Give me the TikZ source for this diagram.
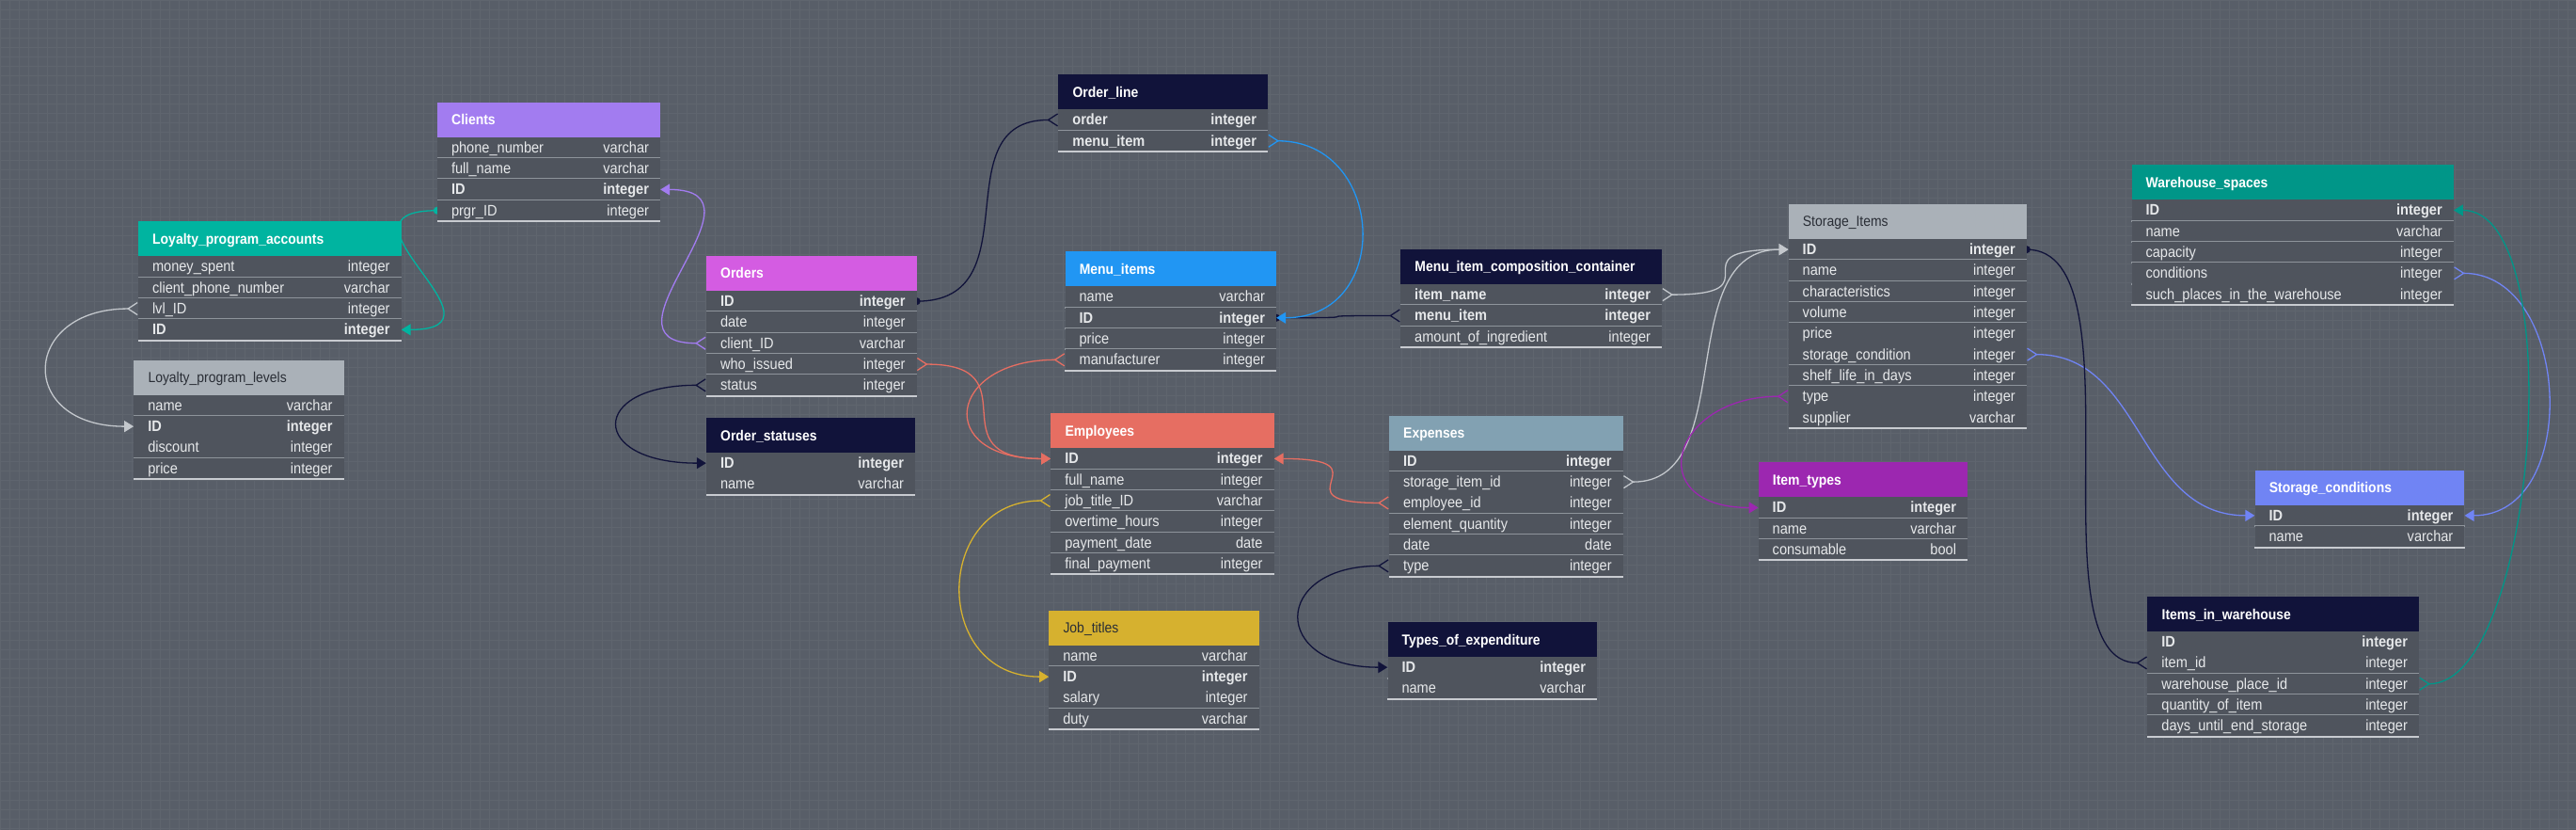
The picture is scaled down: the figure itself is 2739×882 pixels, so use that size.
\documentclass[tikz,border=0pt]{standalone}
\usepackage{fontspec}
\newfontfamily\erfont{Liberation Sans}[FakeStretch=0.9]
\usetikzlibrary{arrows.meta,backgrounds}
\pgfdeclarelayer{canvas}
\pgfsetlayers{canvas,background,main}

\definecolor{canvasC}{HTML}{585E68}
\definecolor{gridC}{HTML}{5F656E}
\definecolor{rowC}{HTML}{4F545D}
\definecolor{sepC}{HTML}{8E949B}
\definecolor{endC}{HTML}{C8CBD0}
\definecolor{inkC}{HTML}{E6E8EA}
\definecolor{headinkC}{HTML}{2A2E36}
\definecolor{greyL}{HTML}{C3C7CC}
\definecolor{clientsC}{HTML}{A27CF0}
\definecolor{lpaC}{HTML}{00B4A0}
\definecolor{lplC}{HTML}{AAB1B8}
\definecolor{navyC}{HTML}{11133A}
\definecolor{ordersC}{HTML}{D45CE2}
\definecolor{menuC}{HTML}{2196F3}
\definecolor{empC}{HTML}{E66E62}
\definecolor{jobsC}{HTML}{D6B12F}
\definecolor{expC}{HTML}{82A1B2}
\definecolor{itypesC}{HTML}{9C27B0}
\definecolor{wsC}{HTML}{009688}
\definecolor{scC}{HTML}{7084F4}

\newcommand{\rowfont}{\erfont\fontsize{16.2}{18}\selectfont}
\newcommand{\headfont}{\erfont\fontsize{15.5}{18}\selectfont}
\newcommand{\rwb}{\bfseries}
\newcommand{\rwn}{}

\tikzset{
  rowbox/.style={rectangle,fill=rowC,minimum height=22.3pt,inner sep=0pt},
  rowtxt/.style={text=inkC,inner sep=0pt,text height=12pt,text depth=1pt},
  lighthead/.style={text=white,font=\headfont\bfseries},
  darkhead/.style={text=headinkC,font=\headfont},
  sepline/.style={draw=sepC,line width=2pt},
  endline/.style={draw=endC,line width=2pt},
  link/.style={draw=#1,line width=1.3pt,distance=125pt},
  pkarrow/.tip={Triangle[length=10pt,width=12pt]},
  crow/.tip={Straight Barb[reversed,length=10pt,width=13pt]},
}

% table: id, left, top, width, header colour, header style, title, rows
\newcommand{\ertable}[8]{%
  \fill[#5] (#2,#3) rectangle ++(#4,37);
  \node[#6,inner sep=0pt,text height=12pt,text depth=1pt,anchor=west] (#1) at ({#2+15},{#3+18.5}) {#7};
  \foreach \fld/\typ/\wt [count=\rn] in {#8}{
    \node[rowbox,minimum width=#4pt] (#1-\rn) at ({#2+#4/2},{#3+37+(\rn-0.5)*22.3}) {};
    \node[rowtxt,font=\rowfont\csname rw\wt\endcsname,anchor=west] (#1-\rn-f) at ([xshift=15pt]#1-\rn.west) {\fld};
    \node[rowtxt,font=\rowfont\csname rw\wt\endcsname,anchor=east] (#1-\rn-t) at ([xshift=-12pt]#1-\rn.east) {\typ};
    \draw[sepline] (#1-\rn.south west) -- (#1-\rn.south east);
    \xdef\erlast{\rn}
  }
  \draw[endline] (#1-\erlast.south west) -- (#1-\erlast.south east);
}

\begin{document}
\begin{tikzpicture}[x=1pt,y=-1pt]
\useasboundingbox (0,0) rectangle (2739,882);
\begin{pgfonlayer}{canvas}            % board with its grid
\fill[canvasC] (0,0) rectangle (2739,882);
\draw[gridC,line width=0.9pt] (0,0) grid[step=10pt] (2739,882);
\end{pgfonlayer}

\ertable{clients}{465}{108.7}{237}{clientsC}{lighthead}{Clients}{phone\_number/varchar/n,
  full\_name/varchar/n,ID/integer/b,prgr\_ID/integer/n}
\ertable{lpa}{147}{235.3}{279.5}{lpaC}{lighthead}{Loyalty\_program\_accounts}{money\_spent/integer/n,
  client\_phone\_number/varchar/n,lvl\_ID/integer/n,ID/integer/b}
\ertable{lpl}{142.3}{382.7}{223.2}{lplC}{darkhead}{Loyalty\_program\_levels}{name/varchar/n,
  ID/integer/b,discount/integer/n,price/integer/n}
\ertable{oline}{1125.4}{79.3}{222.6}{navyC}{lighthead}{Order\_line}{order/integer/b,
  menu\_item/integer/b}
\ertable{orders}{751}{272}{223.5}{ordersC}{lighthead}{Orders}{ID/integer/b,date/integer/n,
  client\_ID/varchar/n,who\_issued/integer/n,status/integer/n}
\ertable{menu}{1132.6}{267.3}{224.4}{menuC}{lighthead}{Menu\_items}{name/varchar/n,
  ID/integer/b,price/integer/n,manufacturer/integer/n}
\ertable{ostat}{751}{444}{222}{navyC}{lighthead}{Order\_statuses}{ID/integer/b,name/varchar/n}
\ertable{emp}{1117.3}{439.3}{237.2}{empC}{lighthead}{Employees}{ID/integer/b,
  full\_name/integer/n,job\_title\_ID/varchar/n,overtime\_hours/integer/n,
  payment\_date/date/n,final\_payment/integer/n}
\ertable{jobs}{1115.3}{648.7}{223.2}{jobsC}{darkhead}{Job\_titles}{name/varchar/n,
  ID/integer/b,salary/integer/n,duty/varchar/n}
\ertable{exp}{1477}{441.7}{248.6}{expC}{lighthead}{Expenses}{ID/integer/b,
  storage\_item\_id/integer/n,employee\_id/integer/n,element\_quantity/integer/n,
  date/date/n,type/integer/n}
\ertable{toe}{1475.5}{661}{222.5}{navyC}{lighthead}{Types\_of\_expenditure}{ID/integer/b,
  name/varchar/n}
\ertable{micc}{1489.2}{265}{277.8}{navyC}{lighthead}{Menu\_item\_composition\_container}{item\_name/integer/b,
  menu\_item/integer/b,amount\_of\_ingredient/integer/n}
\ertable{stor}{1901.7}{217}{253}{lplC}{darkhead}{Storage\_Items}{ID/integer/b,name/integer/n,
  characteristics/integer/n,volume/integer/n,price/integer/n,storage\_condition/integer/n,
  shelf\_life\_in\_days/integer/n,type/integer/n,supplier/varchar/n}
\ertable{itypes}{1869.7}{491.3}{222.3}{itypesC}{lighthead}{Item\_types}{ID/integer/b,
  name/varchar/n,consumable/bool/n}
\ertable{wspace}{2266.5}{175.3}{342.2}{wsC}{lighthead}{Warehouse\_spaces}{ID/integer/b,
  name/varchar/n,capacity/integer/n,conditions/integer/n,
  such\_places\_in\_the\_warehouse/integer/n}
\ertable{scond}{2397.6}{499.7}{222.7}{scC}{lighthead}{Storage\_conditions}{ID/integer/b,
  name/varchar/n}
\ertable{iiw}{2283.4}{634}{288.5}{navyC}{lighthead}{Items\_in\_warehouse}{ID/integer/b,
  item\_id/integer/n,warehouse\_place\_id/integer/n,quantity\_of\_item/integer/n,
  days\_until\_end\_storage/integer/n}

\begin{scope}[on background layer]    % links run under the tables
% clients and loyalty
\draw[link=lpaC,-pkarrow] (clients-4.west) to[out=180,in=0] (lpa-4.east);
\fill[lpaC] (clients-4.west) circle[radius=4pt];
\draw[link=greyL,crow-pkarrow] (lpa-3.west) to[out=180,in=180] (lpl-2.west);
\draw[link=clientsC,crow-pkarrow] (orders-3.west) to[out=180,in=0] (clients-3.east);
% orders
\draw[link=navyC,-crow] (orders-1.east) to[out=0,in=180] (oline-1.west);
\fill[navyC] (orders-1.east) circle[radius=4pt];
\draw[link=navyC,crow-pkarrow] (orders-5.west) to[out=180,in=180] (ostat-1.west);
\draw[link=empC,crow-pkarrow] (orders-4.east) to[out=0,in=180] (emp-1.west);
% menu
\draw[link=navyC,crow-] (micc-2.west) to[out=180,in=0] (menu-2.east);
\fill[navyC] (menu-2.east) circle[radius=4pt];
\draw[link=menuC,crow-pkarrow] (oline-2.east) to[out=0,in=0] (menu-2.east);
\draw[link=empC,crow-pkarrow] (menu-4.west) to[out=180,in=180] (emp-1.west);
% employees and expenses
\draw[link=jobsC,crow-pkarrow] (emp-3.west) to[out=180,in=180] (jobs-2.west);
\draw[link=empC,crow-pkarrow] (exp-3.west) to[out=180,in=0] (emp-1.east);
\draw[link=navyC,crow-pkarrow] (exp-6.west) to[out=180,in=180] (toe-1.west);
% storage
\draw[link=greyL,crow-pkarrow] (micc-1.east) to[out=0,in=180] (stor-1.west);
\draw[link=greyL,crow-pkarrow] (exp-2.east) to[out=0,in=180] (stor-1.west);
\draw[link=itypesC,crow-pkarrow] (stor-8.west) to[out=180,in=180] (itypes-1.west);
\draw[link=scC,crow-pkarrow] (stor-6.east) to[out=0,in=180] (scond-1.west);
\draw[link=scC,crow-pkarrow] (wspace-4.east) to[out=0,in=0] (scond-1.east);
\draw[link=navyC,-crow] (stor-1.east) to[out=0,in=180] (iiw-2.west);
\fill[navyC] (stor-1.east) circle[radius=4pt];
\draw[link=wsC,crow-pkarrow] (iiw-3.east) to[out=0,in=0] (wspace-1.east);
\end{scope}
\end{tikzpicture}
\end{document}
